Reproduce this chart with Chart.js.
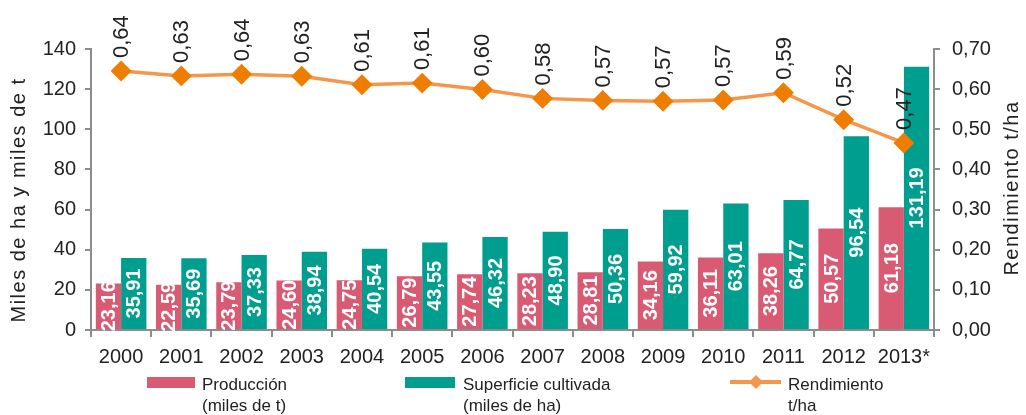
<!DOCTYPE html>
<html>
<head>
<meta charset="utf-8">
<script src="https://cdn.jsdelivr.net/npm/chart.js@4"></script>
<style>
  html, body { margin: 0; padding: 0; background: #fff; }
  #wrap { position: relative; width: 1026px; height: 415px; }
</style>
</head>
<body>
<div id="wrap"><canvas id="chart" width="1026" height="415"></canvas></div>
<script>
// Values
const years = ['2000', '2001', '2002', '2003', '2004', '2005', '2006', '2007', '2008', '2009', '2010', '2011', '2012', '2013*'];
const produccion = [23.16, 22.59, 23.79, 24.60, 24.75, 26.79, 27.74, 28.23, 28.81, 34.16, 36.11, 38.26, 50.57, 61.18];
const superficie = [35.91, 35.69, 37.33, 38.94, 40.54, 43.55, 46.32, 48.90, 50.36, 59.92, 63.01, 64.77, 96.54, 131.19];
const rendimiento = [0.645, 0.633, 0.637, 0.632, 0.611, 0.615, 0.599, 0.577, 0.572, 0.570, 0.573, 0.591, 0.524, 0.466];
const rendLabels = ['0,64', '0,63', '0,64', '0,63', '0,61', '0,61', '0,60', '0,58', '0,57', '0,57', '0,57', '0,59', '0,52', '0,47'];

const PINK = '#d95b73';
const TEAL = '#009e8e';
const ORANGE_LINE = '#f5964a';
const ORANGE_PT = '#ee7d00';
const TEXT = '#222222';
const AXIS = '#8c8c8c';
const FONT = "'Liberation Sans', Arial, sans-serif";

const fmt = v => v.toFixed(2).replace('.', ',');

// labels drawn inside bars (rotated) and above line points
const labelPlugin = {
    id: 'valueLabels',
    afterDatasetsDraw(chart) {
        const ctx = chart.ctx;
        chart.data.datasets.forEach((ds, i) => {
            const meta = chart.getDatasetMeta(i);
            meta.data.forEach((el, j) => {
                ctx.save();
                if (ds.type === 'line') {
                    ctx.translate(el.x, el.y - 13);
                    ctx.rotate(-Math.PI / 2);
                    ctx.font = '22px ' + FONT;
                    ctx.fillStyle = TEXT;
                    ctx.textAlign = 'left';
                    ctx.textBaseline = 'middle';
                    ctx.fillText(rendLabels[j], 0, 1);
                } else {
                    const cy = (el.y + el.base) / 2;
                    ctx.translate(el.x, cy);
                    ctx.rotate(-Math.PI / 2);
                    ctx.font = 'bold 20px ' + FONT;
                    ctx.fillStyle = '#ffffff';
                    ctx.textAlign = 'center';
                    ctx.textBaseline = 'middle';
                    ctx.fillText(fmt(ds.data[j]), 0, 1);
                }
                ctx.restore();
            });
        });
    }
};

// vertical axis titles, both reading bottom to top
function drawTitle(ctx, text, x, y) {
    ctx.save();
    ctx.translate(x, y);
    ctx.rotate(-Math.PI / 2);
    ctx.font = '20px ' + FONT;
    ctx.letterSpacing = '1.5px';
    ctx.fillStyle = TEXT;
    ctx.textAlign = 'center';
    ctx.textBaseline = 'middle';
    ctx.fillText(text, 0, 0);
    ctx.restore();
}

// legend at the bottom, two-line labels, plus axis titles
const legendPlugin = {
    id: 'bottomLegend',
    afterDraw(chart) {
        const ctx = chart.ctx;
        drawTitle(ctx, 'Miles de ha y miles de t', 19, 200);
        drawTitle(ctx, 'Rendimiento t/ha', 1012, 188);

        ctx.save();
        ctx.font = '17px ' + FONT;
        ctx.textBaseline = 'alphabetic';
        ctx.textAlign = 'left';

        ctx.fillStyle = PINK;
        ctx.fillRect(147, 377, 48, 11);
        ctx.fillStyle = TEXT;
        ctx.fillText('Producción', 202, 390);
        ctx.fillText('(miles de t)', 202, 411);

        ctx.fillStyle = TEAL;
        ctx.fillRect(405, 377, 50, 11);
        ctx.fillStyle = TEXT;
        ctx.fillText('Superficie cultivada', 463, 390);
        ctx.fillText('(miles de ha)', 463, 411);

        ctx.strokeStyle = ORANGE_LINE;
        ctx.lineWidth = 4;
        ctx.beginPath();
        ctx.moveTo(730, 382);
        ctx.lineTo(781, 382);
        ctx.stroke();
        ctx.fillStyle = ORANGE_LINE;
        ctx.beginPath();
        ctx.moveTo(756, 375);
        ctx.lineTo(763, 382);
        ctx.lineTo(756, 389);
        ctx.lineTo(749, 382);
        ctx.closePath();
        ctx.fill();
        ctx.fillStyle = TEXT;
        ctx.fillText('Rendimiento', 788, 390);
        ctx.fillText('t/ha', 788, 411);
        ctx.restore();
    }
};

const tickFont = { family: FONT, size: 20 };

new Chart(document.getElementById('chart'), {
    type: 'bar',
    data: {
        labels: years,
        datasets: [
            {
                type: 'line',
                label: 'Rendimiento t/ha',
                data: rendimiento,
                yAxisID: 'y1',
                borderColor: ORANGE_LINE,
                borderWidth: 3.5,
                pointStyle: 'rectRot',
                pointRadius: 8,
                pointBackgroundColor: ORANGE_PT,
                pointBorderColor: ORANGE_PT,
                tension: 0,
                order: 0
            },
            {
                label: 'Producción (miles de t)',
                data: produccion,
                backgroundColor: PINK,
                yAxisID: 'y',
                categoryPercentage: 0.84,
                barPercentage: 1,
                order: 1
            },
            {
                label: 'Superficie cultivada (miles de ha)',
                data: superficie,
                backgroundColor: TEAL,
                yAxisID: 'y',
                categoryPercentage: 0.84,
                barPercentage: 1,
                order: 1
            }
        ]
    },
    plugins: [labelPlugin, legendPlugin],
    options: {
        responsive: false,
        animation: false,
        layout: { padding: { top: 49, left: 0, right: 0, bottom: 0 } },
        plugins: {
            legend: { display: false },
            tooltip: { enabled: false }
        },
        scales: {
            x: {
                offset: true,
                grid: {
                    offset: true,
                    drawOnChartArea: false,
                    drawTicks: true,
                    tickLength: 7,
                    color: AXIS,
                    lineWidth: 2
                },
                border: { color: AXIS, width: 2 },
                ticks: { color: TEXT, font: tickFont, padding: 8, maxRotation: 0 },
                afterFit: s => { s.height = 85; }
            },
            y: {
                position: 'left',
                min: 0,
                max: 140,
                ticks: { stepSize: 20, color: TEXT, font: tickFont, padding: 9 },
                grid: { drawOnChartArea: false, tickLength: 6, color: AXIS, lineWidth: 2 },
                border: { color: AXIS, width: 2 },
                afterFit: s => { s.width = 91; }
            },
            y1: {
                position: 'right',
                min: 0,
                max: 0.7,
                ticks: {
                    stepSize: 0.1,
                    color: TEXT,
                    font: tickFont,
                    padding: 12,
                    callback: v => fmt(v)
                },
                grid: { drawOnChartArea: false, tickLength: 6, color: AXIS, lineWidth: 2 },
                border: { color: AXIS, width: 2 },
                afterFit: s => { s.width = 92; }
            }
        }
    }
});
</script>
</body>
</html>
